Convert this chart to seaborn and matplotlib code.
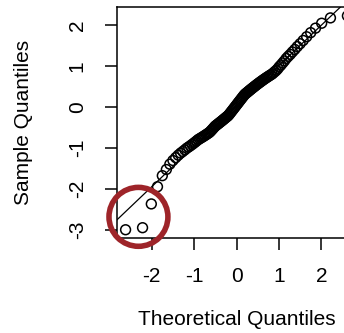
import statistics
import numpy as np
import pandas as pd
import matplotlib
matplotlib.use("Agg")
import matplotlib.pyplot as plt
import seaborn as sns

# Sorted sample values (n = 112)
sample_values = [
    -3.00, -2.95, -2.37, -1.95, -1.68, -1.53, -1.40, -1.31, -1.24, -1.18,
    -1.13, -1.09, -1.05, -1.01, -0.98, -0.95, -0.92, -0.89, -0.86, -0.83,
    -0.80, -0.78, -0.76, -0.74, -0.72, -0.70, -0.68, -0.66, -0.64, -0.62,
    -0.59, -0.56, -0.53, -0.50, -0.47, -0.45, -0.43, -0.41, -0.39, -0.37,
    -0.35, -0.33, -0.31, -0.29, -0.27, -0.25, -0.23, -0.21, -0.18, -0.15,
    -0.12, -0.09, -0.06, -0.03, 0.00, 0.03, 0.06, 0.09, 0.12, 0.15,
    0.18, 0.21, 0.24, 0.27, 0.30, 0.32, 0.34, 0.36, 0.38, 0.40,
    0.42, 0.44, 0.46, 0.48, 0.50, 0.52, 0.54, 0.56, 0.58, 0.60,
    0.62, 0.64, 0.66, 0.68, 0.70, 0.72, 0.74, 0.76, 0.78, 0.80,
    0.83, 0.86, 0.89, 0.93, 0.98, 1.02, 1.07, 1.12, 1.18, 1.23,
    1.28, 1.34, 1.40, 1.47, 1.54, 1.62, 1.71, 1.81, 1.92, 2.04,
    2.17, 2.22,
]
x_ticks = [-2, -1, 0, 1, 2]
y_ticks = [-3, -2, -1, 0, 1, 2]
x_label = "Theoretical Quantiles"
y_label = "Sample Quantiles"
n_highlight = 3  # lowest points circled

# Theoretical normal quantiles at plotting positions (i - 0.5) / n
n = len(sample_values)
nd = statistics.NormalDist()
theoretical = [nd.inv_cdf((i + 0.5) / n) for i in range(n)]
df = pd.DataFrame({"theoretical": theoretical, "sample": sample_values})

# Reference line through the first and third quartiles
q_s = np.quantile(df["sample"], [0.25, 0.75])
q_t = np.array([nd.inv_cdf(0.25), nd.inv_cdf(0.75)])
slope = (q_s[1] - q_s[0]) / (q_t[1] - q_t[0])
intercept = q_s[0] - slope * q_t[0]

sns.set_style("ticks")
plt.rcParams["font.family"] = ["Liberation Sans", "DejaVu Sans"]
plt.rcParams["axes.unicode_minus"] = False

fig = plt.figure(figsize=(3.44, 3.33), dpi=100)
W, H = 344, 333
left, right, top, bottom = 116.7, 356.3, 7.3, 238.3
ax = fig.add_axes([left / W, 1 - bottom / H, (right - left) / W, (bottom - top) / H])

sns.scatterplot(data=df, x="theoretical", y="sample", ax=ax, marker="o",
                s=50, facecolors="none", edgecolor="black", linewidth=1.1,
                legend=False, zorder=3)

def pad(lo, hi, f=0.04):
    r = hi - lo
    return lo - f * r, hi + f * r

xlo, xhi = pad(min(theoretical), max(theoretical))
ylo, yhi = pad(min(sample_values), max(sample_values))
ax.set_xlim(xlo, xhi)
ax.set_ylim(ylo, yhi)

xs = np.array([xlo, xhi])
ax.plot(xs, intercept + slope * xs, color="black", linewidth=0.9, zorder=2)

# Circle around the lowest outliers, centred on their bounding box
low = df.nsmallest(n_highlight, "sample")
cx = (low["theoretical"].min() + low["theoretical"].max()) / 2
cy = (low["sample"].min() + low["sample"].max()) / 2
ax.scatter([cx], [cy], s=1800, facecolors="none", edgecolors="#9E2429",
           linewidths=4.0, clip_on=False, zorder=6)

for s in ax.spines.values():
    s.set_visible(True)
    s.set_linewidth(1.1)
    s.set_color("black")

ax.set_xticks(x_ticks)
ax.set_yticks(y_ticks)
ax.tick_params(axis="both", direction="out", length=8.6, width=1.1,
               color="black", labelsize=15, labelcolor="black")
ax.tick_params(axis="x", pad=12)
ax.tick_params(axis="y", pad=13, labelrotation=90)
for lab in ax.get_yticklabels():
    lab.set_verticalalignment("center")

ax.set_xlabel(x_label, fontsize=15, color="black")
ax.set_ylabel(y_label, fontsize=15, color="black")
ax.xaxis.set_label_coords(0.5, -0.31)
ax.yaxis.set_label_coords(-0.35, 0.5)

fig.savefig("out.png", dpi=100)
